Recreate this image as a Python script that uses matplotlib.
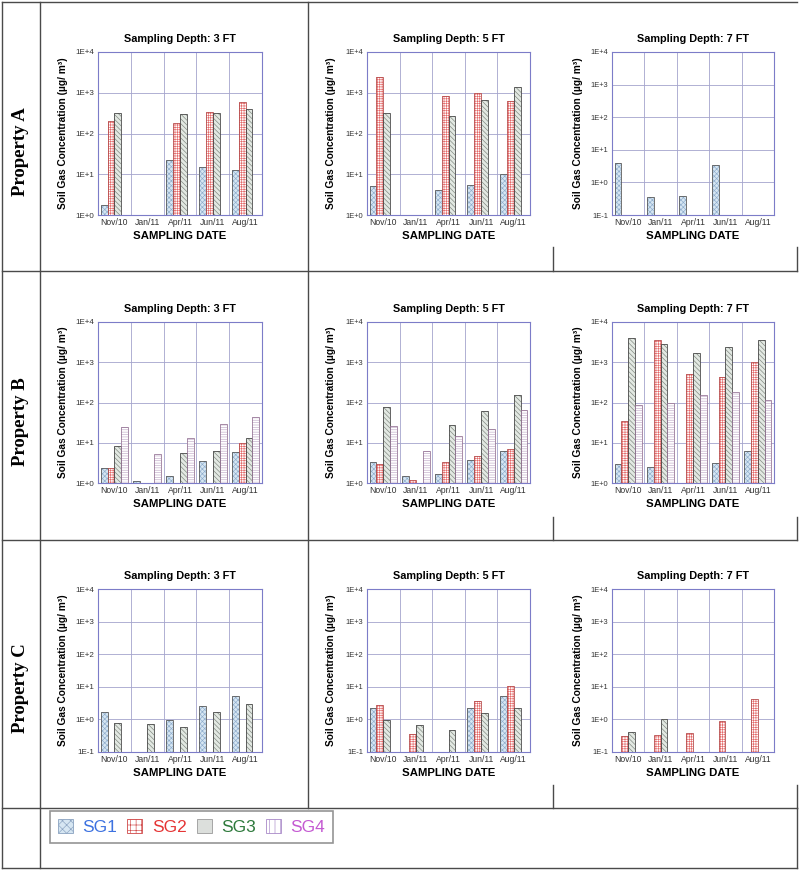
import numpy as np
import matplotlib
matplotlib.use('Agg')
import matplotlib.pyplot as plt
from matplotlib.patches import Patch
from matplotlib.ticker import FixedLocator, FuncFormatter, NullLocator

plt.rcParams['font.family'] = ['Liberation Sans', 'DejaVu Sans']
plt.rcParams['hatch.linewidth'] = 0.45

dates = ['Nov/10', 'Jan/11', 'Apr/11', 'Jun/11', 'Aug/11']
series = ['SG1', 'SG2', 'SG3', 'SG4']
depths = ['3 FT', '5 FT', '7 FT']
properties = ['Property A', 'Property B', 'Property C']

nan = np.nan
# each panel: rows SG1..SG4, columns = dates (nan = no bar)
prop_a_3ft = [[1.75, nan, 21.8, 14.7, 12.9],
              [204, nan, 186, 333, 587],
              [327, nan, 302, 327, 408],
              [nan, nan, nan, nan, nan]]
prop_a_5ft = [[5.2, nan, 4.1, 5.3, 10.4],
              [2410, nan, 840, 980, 640],
              [313, nan, 275, 670, 1420],
              [nan, nan, nan, nan, nan]]
prop_a_7ft = [[3.9, 0.36, 0.37, 3.5, nan],
              [nan, nan, nan, nan, nan],
              [nan, nan, nan, nan, nan],
              [nan, nan, nan, nan, nan]]
prop_b_3ft = [[2.4, 1.12, 1.5, 3.6, 5.9],
              [2.4, nan, nan, nan, 10],
              [8.3, nan, 5.6, 6.1, 13],
              [24, 5.4, 13, 29, 43]]
prop_b_5ft = [[3.3, 1.5, 1.67, 3.8, 6.1],
              [2.9, 1.19, 3.3, 4.7, 6.9],
              [77, nan, 28, 63, 150],
              [26, 6.3, 15, 22, 64]]
prop_b_7ft = [[3.0, 2.5, nan, 3.1, 6.2],
              [34, 3650, 520, 420, 1010],
              [4100, 2800, 1650, 2450, 3550],
              [87, 100, 155, 182, 115]]
prop_c_3ft = [[1.67, nan, 0.93, 2.56, 5.2],
              [nan, nan, nan, nan, nan],
              [0.76, 0.74, 0.57, 1.63, 2.9],
              [nan, nan, nan, nan, nan]]
prop_c_5ft = [[2.27, nan, nan, 2.27, 5.2],
              [2.7, 0.35, nan, 3.7, 10.7],
              [0.93, 0.65, 0.47, 1.55, 2.27],
              [nan, nan, nan, nan, nan]]
prop_c_7ft = [[nan, nan, nan, nan, nan],
              [0.32, 0.34, 0.37, 0.92, 4.1],
              [0.41, 1.04, nan, nan, nan],
              [nan, nan, nan, nan, nan]]

panels = [[prop_a_3ft, prop_a_5ft, prop_a_7ft],
          [prop_b_3ft, prop_b_5ft, prop_b_7ft],
          [prop_c_3ft, prop_c_5ft, prop_c_7ft]]
y_bottoms = [[1, 1, 0.1], [1, 1, 1], [0.1, 0.1, 0.1]]

bar_face = ['#d6e6f2', '#ffffff', '#e2e8e2', '#ffffff']
bar_hatch_col = ['#8eaccc', '#e46a6a', '#7c837c', '#c0aac8']
bar_hatch = ['xxxxxxx', '+++++++', '\\\\\\\\\\\\\\', '-------']
bar_edge = ['#5a5a5a', '#b85050', '#4a4a4a', '#9a7a9a']
label_colors = ['#3d72e0', '#e53535', '#2e7a3c', '#c45ad2']

W, H = 800, 877
fig = plt.figure(figsize=(8, 8.77), dpi=100)

# table background
bg = fig.add_axes([0, 0, 1, 1], zorder=0)
bg.set_xlim(0, W)
bg.set_ylim(H, 0)
bg.axis('off')
lc = '#4a4a4a'
for y in [2, 271, 540, 808, 868]:
    bg.plot([2, 797], [y, y], color=lc, lw=1.0)
for x, y0, y1 in [(2, 2, 868), (40, 2, 868), (308, 2, 808), (797, 808, 868)]:
    bg.plot([x, x], [y0, y1], color=lc, lw=1.0)
for y0, y1 in [(247, 271), (517, 540), (785, 808)]:
    bg.plot([553, 553], [y0, y1], color=lc, lw=1.0)
    bg.plot([797, 797], [y0, y1], color=lc, lw=1.0)

for name, yc in zip(properties, [152, 422, 688]):
    bg.text(21, yc, name, rotation=90, ha='center', va='center',
            family='Liberation Serif', weight='bold', size=13.5)

col_x = [(98, 262), (367, 530), (612, 774)]
row_y = [(52, 215), (322, 483), (589, 752)]
ylab_x = [68, 336, 583]

x = np.arange(len(dates))
bw = 0.21
offsets = [-0.315, -0.105, 0.105, 0.315]

for r in range(3):
    for c in range(3):
        x0, x1 = col_x[c]
        y0, y1 = row_y[r]
        ax = fig.add_axes([x0 / W, 1 - y1 / H, (x1 - x0) / W, (y1 - y0) / H], zorder=2)
        ymin = y_bottoms[r][c]
        data = panels[r][c]
        for i in range(4):
            vals = np.array(data[i], dtype=float)
            ok = ~np.isnan(vals)
            if not ok.any():
                continue
            ax.bar(x[ok] + offsets[i], vals[ok] - ymin, bottom=ymin, width=bw,
                   color=bar_face[i], edgecolor=bar_hatch_col[i], hatch=bar_hatch[i],
                   linewidth=0, zorder=3)
            ax.bar(x[ok] + offsets[i], vals[ok] - ymin, bottom=ymin, width=bw,
                   fill=False, edgecolor=bar_edge[i], linewidth=0.6, zorder=4)
        ax.set_yscale('log')
        ax.set_ylim(ymin, 1e4)
        ax.set_xlim(-0.5, 4.5)
        decades = np.arange(int(round(np.log10(ymin))), 5)
        ax.yaxis.set_major_locator(FixedLocator(10.0 ** decades))
        ax.yaxis.set_minor_locator(NullLocator())
        ax.yaxis.set_major_formatter(FuncFormatter(lambda v, p: '1E%+d' % round(np.log10(v))))
        ax.set_xticks(x)
        ax.set_xticklabels(dates)
        ax.set_xticks([0.5, 1.5, 2.5, 3.5], minor=True)
        ax.grid(which='minor', axis='x', color='#a4a4cc', lw=0.6)
        ax.grid(which='major', axis='y', color='#a4a4cc', lw=0.6)
        ax.set_axisbelow(True)
        ax.tick_params(which='both', length=0)
        ax.tick_params(axis='x', labelsize=6.2, pad=2.5, colors='#333333')
        ax.tick_params(axis='y', labelsize=5.8 if c == 0 else 5.4, pad=2.5, colors='#333333')
        for s in ax.spines.values():
            s.set_color('#7c7cc8')
            s.set_linewidth(0.8)
        ax.set_title('Sampling Depth: ' + depths[c], fontsize=7.8, weight='bold', pad=7.5)
        ax.set_xlabel('SAMPLING DATE', fontsize=8.2, weight='bold')
        ax.xaxis.set_label_coords(0.5, -16.0 / (y1 - y0))
        ax.set_ylabel('Soil Gas Concentration (µg/ m³)', fontsize=7.3, weight='bold')
        ax.yaxis.set_label_coords((ylab_x[c] - x0) / (x1 - x0), 0.5)

handles = [Patch(facecolor=bar_face[0], edgecolor='#8aa2c0', hatch='xxxx', lw=0.6),
           Patch(facecolor='#ffffff', edgecolor='#d04848', hatch='+++', lw=0.6),
           Patch(facecolor='#dcdfdc', edgecolor='#9a9a9a', lw=0.6),
           Patch(facecolor='#ffffff', edgecolor='#a888c8', hatch='|||', lw=0.6)]
leg = bg.legend(handles, series, loc='upper left', bbox_to_anchor=(50, 811),
                bbox_transform=bg.transData, ncol=4, frameon=True, fancybox=False,
                edgecolor='#7a7a7a', fontsize=12.5, handlelength=0.85, handleheight=0.85,
                handletextpad=0.55, columnspacing=0.6, borderpad=0.45, borderaxespad=0)
leg.get_frame().set_linewidth(1.2)
for t, col in zip(leg.get_texts(), label_colors):
    t.set_color(col)

fig.savefig('out.png', dpi=100, facecolor='white')
